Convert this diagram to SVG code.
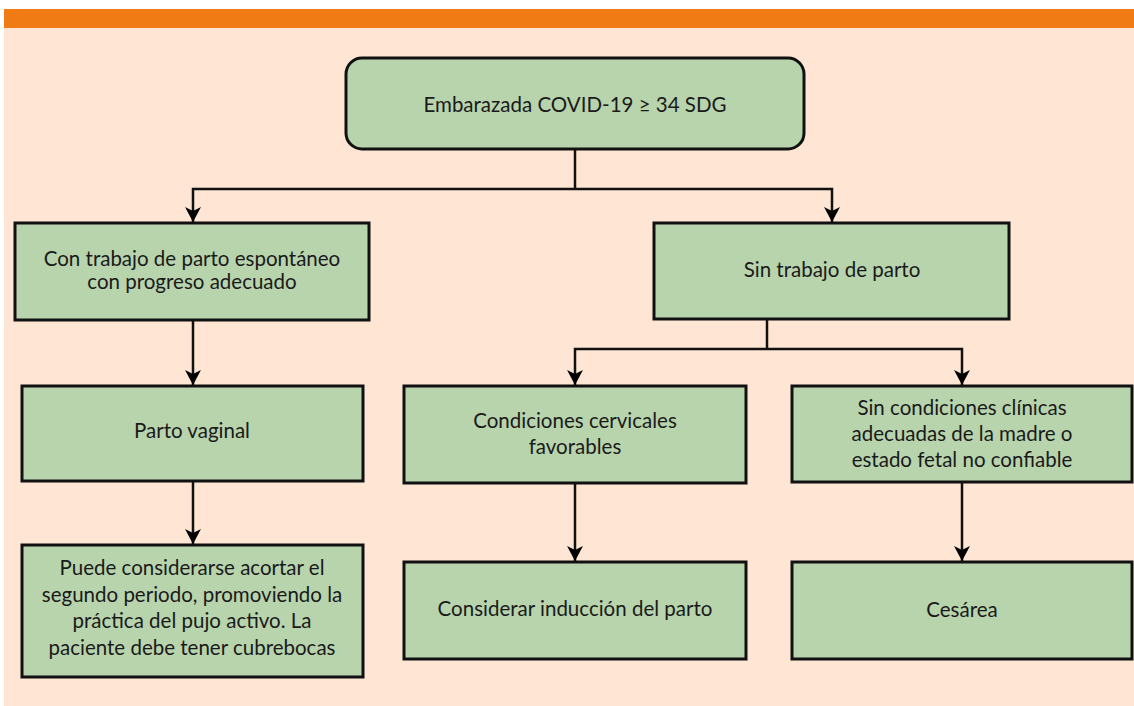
<svg xmlns="http://www.w3.org/2000/svg" width="1134" height="706" viewBox="0 0 1134 706">
<defs>
<style>
.box{fill:#b8d4ad;stroke:#111;stroke-width:3}
.t{font-family:Lato,"Open Sans","Liberation Sans",sans-serif;font-size:20.5px;fill:#1a1a1a;text-anchor:middle}
.c{fill:none;stroke:#111;stroke-width:2.5}
</style>
<marker id="ad" markerUnits="userSpaceOnUse" markerWidth="16" markerHeight="16" viewBox="0 0 16 16" refX="15" refY="8" orient="auto">
<path d="M0,0 L4,8 L0,16 L15,8 Z" fill="#000"/>
</marker>
</defs>
<rect x="4" y="28" width="1130" height="678" fill="#fee5d4"/>
<rect x="4" y="9" width="1130" height="19" fill="#f07a14"/>
<g id="connectors">
<path class="c" d="M575,149 V189"/>
<path class="c" d="M575,189 H193 V222" marker-end="url(#ad)"/>
<path class="c" d="M575,189 H832 V222" marker-end="url(#ad)"/>
<path class="c" d="M193,320 V385" marker-end="url(#ad)"/>
<path class="c" d="M193,481 V544" marker-end="url(#ad)"/>
<path class="c" d="M767,319 V349"/>
<path class="c" d="M767,349 H575 V385" marker-end="url(#ad)"/>
<path class="c" d="M767,349 H962 V385" marker-end="url(#ad)"/>
<path class="c" d="M575,483 V561" marker-end="url(#ad)"/>
<path class="c" d="M962,482 V561" marker-end="url(#ad)"/>
</g>
<g id="n0"><rect class="box" x="346" y="58" width="458" height="91" rx="16"/><text class="t" x="575" y="112">Embarazada COVID-19 ≥ 34 SDG</text></g>
<g id="n1"><rect class="box" x="15" y="223" width="354" height="97"/><text class="t" x="192" y="266">Con trabajo de parto espontáneo</text><text class="t" x="192" y="289">con progreso adecuado</text></g>
<g id="n2"><rect class="box" x="654" y="223" width="355" height="96"/><text class="t" x="832" y="277">Sin trabajo de parto</text></g>
<g id="n3"><rect class="box" x="22" y="386" width="341" height="95"/><text class="t" x="192" y="438">Parto vaginal</text></g>
<g id="n4"><rect class="box" x="404" y="386" width="342" height="97"/><text class="t" x="575" y="428">Condiciones cervicales</text><text class="t" x="575" y="454">favorables</text></g>
<g id="n5"><rect class="box" x="792" y="386" width="340" height="96"/><text class="t" x="962" y="415">Sin condiciones clínicas</text><text class="t" x="962" y="441">adecuadas de la madre o</text><text class="t" x="962" y="467">estado fetal no confiable</text></g>
<g id="n6"><rect class="box" x="22" y="545" width="341" height="132"/><text class="t" x="192" y="575">Puede considerarse acortar el</text><text class="t" x="192" y="602">segundo periodo, promoviendo la</text><text class="t" x="192" y="628">práctica del pujo activo. La</text><text class="t" x="192" y="655">paciente debe tener cubrebocas</text></g>
<g id="n7"><rect class="box" x="404" y="562" width="342" height="97"/><text class="t" x="575" y="616">Considerar inducción del parto</text></g>
<g id="n8"><rect class="box" x="792" y="562" width="340" height="97"/><text class="t" x="962" y="617">Cesárea</text></g>
</svg>
